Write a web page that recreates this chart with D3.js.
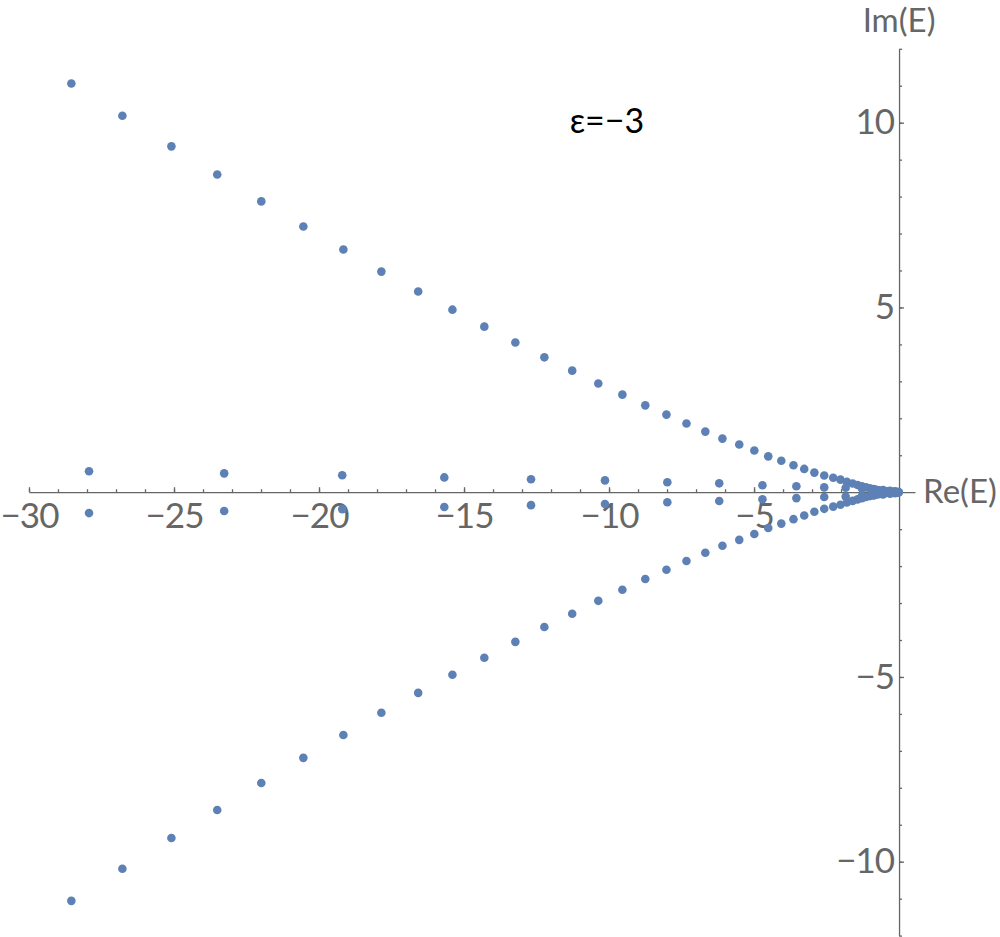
<!DOCTYPE html>
<html>
<head>
<meta charset="utf-8">
<script src="https://cdn.jsdelivr.net/npm/d3@7"></script>
<style>
  body { margin: 0; background: #fff; }
  svg { display: block; }
  .tick-label text { font-family: Lato, "Open Sans", sans-serif; font-size: 35px; fill: #666; letter-spacing: -1px; }
</style>
</head>
<body>
<div id="chart"></div>
<script>
// outer branches (conjugate pairs share the real part)
const branchRe = [-28.54, -26.78, -25.09, -23.51, -21.99, -20.54, -19.16, -17.85, -16.58, -15.40,
  -14.30, -13.23, -12.23, -11.27, -10.37, -9.54, -8.75, -8.02, -7.33, -6.68,
  -6.09, -5.51, -4.99, -4.51, -4.06, -3.64, -3.27, -2.92, -2.58, -2.27,
  -2.02, -1.80, -1.60, -1.43, -1.28, -1.14, -1.01, -0.89, -0.79, -0.70,
  -0.61, -0.53, -0.46, -0.40, -0.34, -0.28, -0.235, -0.19, -0.15, -0.115,
  -0.083, -0.055, -0.03, -0.013]
const branchImUp = [11.06, 10.19, 9.36, 8.60, 7.87, 7.19, 6.57, 5.97, 5.43, 4.94,
  4.48, 4.05, 3.65, 3.29, 2.94, 2.64, 2.35, 2.10, 1.86, 1.64,
  1.45, 1.29, 1.13, 0.97, 0.85, 0.73, 0.63, 0.53, 0.45, 0.39,
  0.34, 0.28, 0.235, 0.195, 0.16, 0.13, 0.105, 0.085, 0.065, 0.052,
  0.04, 0.03, 0.022, 0.016, 0.011, 0.007, 0.005, 0.003, 0.002, 0.001,
  0.0005, 0, 0, 0]
const branchImDown = [-11.06, -10.19, -9.36, -8.60, -7.87, -7.19, -6.57, -5.97, -5.43, -4.94,
  -4.48, -4.05, -3.65, -3.29, -2.94, -2.64, -2.35, -2.10, -1.86, -1.64,
  -1.45, -1.29, -1.13, -0.97, -0.85, -0.73, -0.63, -0.53, -0.45, -0.39,
  -0.34, -0.28, -0.235, -0.195, -0.16, -0.13, -0.105, -0.085, -0.065, -0.052,
  -0.04, -0.03, -0.022, -0.016, -0.011, -0.007, -0.005, -0.003, -0.002, -0.001,
  -0.0005, 0, 0, 0]

// pairs close to the real axis
const innerRe = [-27.93, -23.27, -19.20, -15.68, -12.69, -10.14, -7.99, -6.20, -4.71, -3.54,
  -2.58, -1.84, -1.28, -0.86, -0.55, -0.31, -0.14, -0.03]
const innerImUp = [0.565, 0.51, 0.457, 0.40, 0.35, 0.32, 0.27, 0.24, 0.19, 0.16,
  0.13, 0.12, 0.10, 0.08, 0.06, 0.04, 0.025, 0.01]
const innerImDown = [-0.565, -0.51, -0.457, -0.40, -0.35, -0.32, -0.27, -0.24, -0.19, -0.16,
  -0.13, -0.12, -0.10, -0.08, -0.06, -0.04, -0.025, -0.01]

const xMajor = [-30, -25, -20, -15, -10, -5]
const yMajor = [-10, -5, 5, 10]
const title = "ε=−3"

const width = 1000
const height = 937
const axisColor = "#666"
const dotColor = "#5e81b5"

const svg = d3.select("#chart")
    .append("svg")
    .attr("width", width)
    .attr("height", height)

const xScale = d3.scaleLinear()
    .domain([-30, 0.55])
    .range([29, 915])

const yScale = d3.scaleLinear()
    .domain([-12, 12])
    .range([935.6, 48.8])

const x0 = xScale(0)
const y0 = yScale(0)

// x axis: minor + major ticks pointing up, labels below
svg.append("g")
    .attr("transform", `translate(0,${y0})`)
    .call(d3.axisTop(xScale).tickValues(d3.range(-30, 1)).tickSize(3).tickSizeOuter(0).tickFormat(""))
svg.append("g")
    .attr("transform", `translate(0,${y0})`)
    .call(d3.axisTop(xScale).tickValues(xMajor).tickSize(5).tickFormat(""))
    .call(g => g.select(".domain").remove())
svg.append("g")
    .attr("class", "tick-label")
    .attr("transform", `translate(0,${y0})`)
    .call(d3.axisBottom(xScale).tickValues(xMajor).tickSize(0).tickPadding(11))
    .call(g => g.select(".domain").remove())

// y axis: ticks pointing right, labels on the left
svg.append("g")
    .attr("transform", `translate(${x0},0)`)
    .call(d3.axisRight(yScale).tickValues(d3.range(-12, 13)).tickSize(3).tickSizeOuter(0).tickFormat(""))
svg.append("g")
    .attr("transform", `translate(${x0},0)`)
    .call(d3.axisRight(yScale).tickValues(yMajor).tickSize(5).tickFormat(""))
    .call(g => g.select(".domain").remove())
svg.append("g")
    .attr("class", "tick-label")
    .attr("transform", `translate(${x0},0)`)
    .call(d3.axisLeft(yScale).tickValues(yMajor).tickSize(0).tickPadding(5))
    .call(g => g.select(".domain").remove())

svg.selectAll(".domain, .tick line")
    .attr("stroke", axisColor)
    .attr("stroke-width", 1.3)

// axis titles
svg.append("text")
    .attr("x", x0 + 24)
    .attr("y", y0 + 11)
    .attr("font-family", "Lato, sans-serif")
    .attr("font-size", 33)
    .attr("fill", axisColor)
    .text("Re(E)")

svg.append("text")
    .attr("x", x0)
    .attr("y", yScale(12) - 17)
    .attr("text-anchor", "middle")
    .attr("font-family", "Lato, sans-serif")
    .attr("font-size", 33)
    .attr("fill", axisColor)
    .text("Im(E)")

svg.append("text")
    .attr("x", xScale(-10.07))
    .attr("y", yScale(9.72))
    .attr("text-anchor", "middle")
    .attr("font-family", "Lato, sans-serif")
    .attr("font-size", 34)
    .attr("fill", "#000")
    .text(title)

// points
const points = []
branchRe.forEach((re, i) => {
    points.push([re, branchImUp[i]])
    points.push([re, branchImDown[i]])
})
innerRe.forEach((re, i) => {
    points.push([re, innerImUp[i]])
    points.push([re, innerImDown[i]])
})

svg.append("g")
    .selectAll("circle")
    .data(points)
    .enter()
    .append("circle")
    .attr("cx", d => xScale(d[0]))
    .attr("cy", d => yScale(d[1]))
    .attr("r", 4.3)
    .attr("fill", dotColor)
</script>
</body>
</html>
